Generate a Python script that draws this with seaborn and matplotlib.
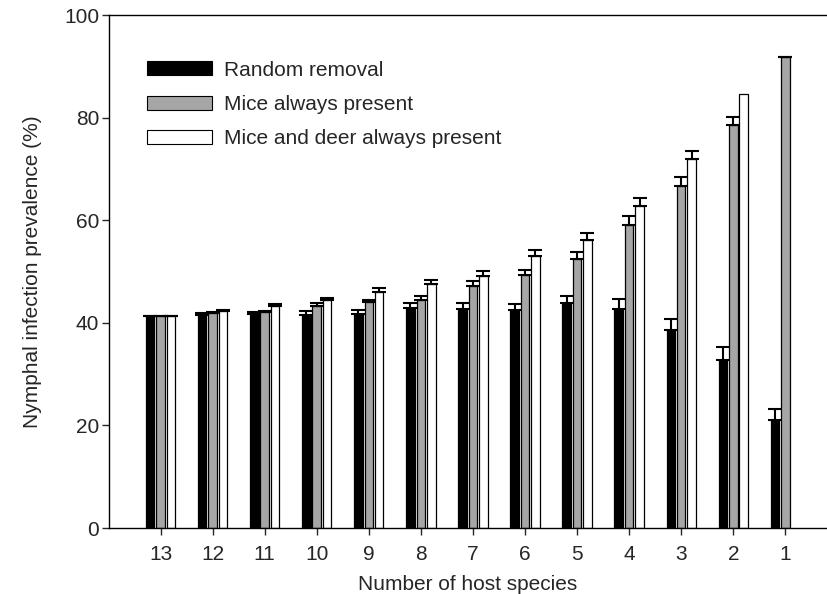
import numpy as np
import pandas as pd
import matplotlib
matplotlib.use("Agg")
import matplotlib.pyplot as plt
import seaborn as sns

# host species richness, from 13 down to 1
species = ["13", "12", "11", "10", "9", "8", "7", "6", "5", "4", "3", "2", "1"]
scenarios = ["Random removal", "Mice always present", "Mice and deer always present"]

random_removal = [41.4, 41.6, 41.7, 41.6, 41.8, 42.9, 42.8, 42.5, 43.8, 42.8, 38.7, 32.7, 21.0]
mice_present = [41.4, 41.9, 42.2, 43.3, 44.0, 44.5, 47.2, 49.4, 52.4, 59.1, 66.6, 78.5, 91.8]
mice_deer_present = [41.4, 42.3, 43.2, 44.4, 46.1, 47.5, 49.2, 53.1, 56.1, 62.7, 71.9, 84.6, np.nan]

# upper error (SE) above each bar
random_err = [0.0, 0.3, 0.4, 0.7, 0.7, 1.0, 1.0, 1.2, 1.5, 1.8, 2.1, 2.5, 2.2]
mice_err = [0.0, 0.3, 0.2, 0.5, 0.5, 0.7, 0.9, 1.0, 1.4, 1.8, 1.9, 1.7, 0.0]
mice_deer_err = [0.0, 0.3, 0.4, 0.5, 0.7, 0.8, 1.0, 1.1, 1.4, 1.6, 1.6, np.nan, np.nan]

rows = []
for name, vals, errs in zip(scenarios,
                            [random_removal, mice_present, mice_deer_present],
                            [random_err, mice_err, mice_deer_err]):
    for sp, v, e in zip(species, vals, errs):
        if not np.isnan(v):
            rows.append({"species": sp, "scenario": name, "prevalence": v, "err": e})
df = pd.DataFrame(rows)

sns.set_style("ticks")
plt.rcParams["font.family"] = ["Liberation Sans", "DejaVu Sans"]

fig = plt.figure(figsize=(8.27, 5.94), dpi=100)
ax = fig.add_axes([0.1318, 0.111, 0.8682, 0.8636])

colors = ["#000000", "#a6a6a6", "#ffffff"]
sns.barplot(data=df, x="species", y="prevalence", hue="scenario",
            order=species, hue_order=scenarios, palette=colors,
            width=0.6, gap=0.18, errorbar=None, edgecolor="black",
            linewidth=0.9, ax=ax)

# one-sided error bars on top of each bar
err_lookup = {s: e for s, e in zip(scenarios, [random_err, mice_err, mice_deer_err])}
for name, cont in zip(scenarios, ax.containers):
    for bar in cont:
        h = bar.get_height()
        if np.isnan(h):
            continue
        xc = bar.get_x() + bar.get_width() / 2
        idx = int(round(xc))
        e = err_lookup[name][idx]
        if np.isnan(e):
            continue
        ax.errorbar(xc, h, yerr=[[0], [e]], fmt="none", ecolor="black",
                    elinewidth=1.5, capsize=4.8, capthick=1.5)

ax.set_xlim(-0.99, 12.8)
ax.set_ylim(0, 100)
ax.set_yticks([0, 20, 40, 60, 80, 100])
ax.set_xlabel("Number of host species", fontsize=15, labelpad=8)
ax.set_ylabel("Nymphal infection prevalence (%)", fontsize=15, labelpad=16)
ax.tick_params(axis="both", labelsize=15, length=5, width=1, direction="out")
ax.tick_params(axis="x", pad=7)
ax.tick_params(axis="y", pad=2)

ax.spines["right"].set_visible(False)
for side in ["left", "bottom", "top"]:
    ax.spines[side].set_linewidth(1.0)
    ax.spines[side].set_color("black")

leg = ax.legend(loc="upper left", bbox_to_anchor=(0.027, 0.948), frameon=False,
                fontsize=15, handlelength=3.1, handleheight=0.67,
                labelspacing=0.74, handletextpad=0.6)
for patch in leg.get_patches():
    patch.set_edgecolor("black")
    patch.set_linewidth(0.8)

fig.savefig("out.png", dpi=100)
